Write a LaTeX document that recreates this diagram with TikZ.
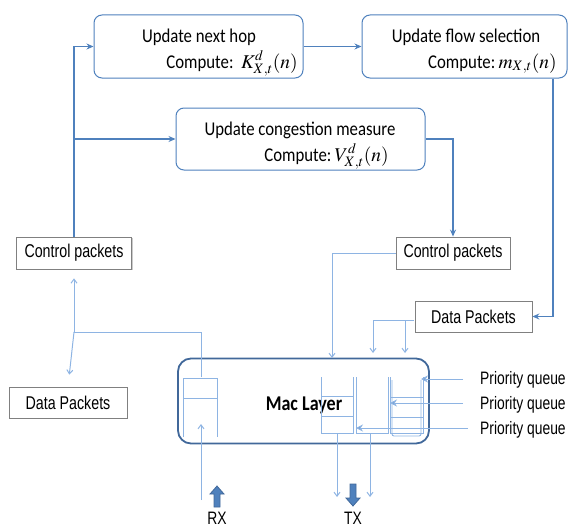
\documentclass[tikz,border=0pt]{standalone}
\usepackage{mathptmx}
\usepackage{fontspec}
\setmainfont{Liberation Sans}
\newfontfamily\calib[FakeStretch=0.86]{Carlito}
\newfontfamily\narrowsans[FakeStretch=0.77]{Liberation Sans}
\usetikzlibrary{arrows.meta,shadows}

\definecolor{lineblue}{HTML}{4F81BD}
\definecolor{paleblue}{HTML}{8EB4E3}
\definecolor{macblue}{HTML}{41689A}
\definecolor{pktgray}{HTML}{808080}

\tikzset{
  procbox/.style={draw=lineblue, line width=1pt, rounded corners=8pt, fill=white},
  pktbox/.style={draw=pktgray, line width=0.8pt, fill=white,
    drop shadow={shadow xshift=1.2pt, shadow yshift=-1.2pt, fill=black!35, opacity=0.6},
    font=\narrowsans\fontsize{18.5}{20}\selectfont, inner sep=0pt},
  boxtext/.style={font=\calib\fontsize{19.5}{22}\selectfont, inner sep=0pt},
  mainline/.style={draw=lineblue, line width=1.4pt},
  mainarrow/.style={mainline, -{Stealth[length=7pt,width=6pt]}},
  thinline/.style={draw=paleblue, line width=1pt},
  thinarrow/.style={thinline, -{Straight Barb[length=4pt,width=6pt]}},
  queueline/.style={draw=paleblue, line width=0.9pt},
  pqarrow/.style={draw=paleblue, line width=1pt, -{Stealth[length=7pt,width=7pt,fill=lineblue]}},
  sidelabel/.style={font=\narrowsans\fontsize{18}{20}\selectfont, inner sep=0pt, anchor=base west},
  iolabel/.style={font=\narrowsans\fontsize{18}{20}\selectfont, inner sep=0pt, anchor=base},
  bigarrow/.style={draw=macblue, line width=0.8pt, fill=lineblue}
}

\begin{document}
\begin{tikzpicture}[x=1pt, y=-1pt]
\useasboundingbox (0,0) rectangle (570,527);

% processing blocks
\node[procbox, minimum width=209pt, minimum height=63pt] (hop) at (198.5,46.5) {};
\node[procbox, minimum width=205pt, minimum height=63pt] (flow) at (464.5,46.5) {};
\node[procbox, minimum width=249pt, minimum height=62pt] (cong) at (300.5,139) {};

% block captions: title centred, formula flush right
\node[boxtext, anchor=base] (hopT) at (199,43) {Update next hop};
\node[boxtext, anchor=base east] (hopC) at (298,68) {Compute:\ \ $K^{d}_{X,t}(n)$};
\node[boxtext, anchor=base] (flowT) at (466,43) {Update flow selection};
\node[boxtext, anchor=base east] (flowC) at (557,68) {Compute:\,$m_{X,t}(n)$};
\node[boxtext, anchor=base] (congT) at (300,135) {Update congestion measure};
\node[boxtext, anchor=base east] (congC) at (389,161) {Compute:\,$V^{d}_{X,t}(n)$};

% packet boxes
\node[pktbox, minimum width=115pt, minimum height=32pt] (cpL) at (74,253) {Control packets};
\node[pktbox, minimum width=114pt, minimum height=32pt] (cpR) at (453,253) {Control packets};
\node[pktbox, minimum width=117pt, minimum height=31pt] (dpR) at (473.5,316.5) {Data Packets};
\node[pktbox, minimum width=118pt, minimum height=31pt] (dpL) at (68,402.5) {Data Packets};

% MAC layer
\node[draw=macblue, line width=1.8pt, rounded corners=13pt, minimum width=251pt, minimum height=85pt] (mac) at (303.5,401) {};
\node[font=\calib\bfseries\fontsize{21}{23}\selectfont, inner sep=0pt, anchor=base] (macT) at (304,410) {Mac Layer};

% receive queue
\draw[queueline] (183,437) -- (183,378) -- (217,378) -- (217,437);
\draw[queueline] (183,398) -- (217,398);

% priority queues
\draw[queueline] (321,377) -- (321,433) -- (353,433) -- (353,377);
\draw[queueline] (321,396) -- (353,396) (321,416) -- (353,416);
\draw[queueline] (356,377) -- (356,433) -- (388,433) -- (388,377);
\draw[queueline] (390,377) -- (390,433) -- (423,433) -- (423,377);
\draw[queueline] (390,397) -- (423,397) (390,417) -- (423,417);
\draw[queueline, rounded corners=2pt] (392,380) -- (392,436) -- (421,436) -- (421,380);

% priority queue inputs
\node[sidelabel] (pq1) at (480,384) {Priority queue};
\node[sidelabel] (pq2) at (480,409) {Priority queue};
\node[sidelabel] (pq3) at (480,434) {Priority queue};
\coordinate (pq1in) at (421,379);
\coordinate (pq2in) at (390,403);
\coordinate (pq3in) at (356,428);
\draw[pqarrow] (463,379) -- (pq1in);
\draw[pqarrow] (463,403) -- (pq2in);
\draw[pqarrow] (468,428) -- (pq3in);

% control flow between blocks
\draw[mainarrow] (hop.east) -- (flow.west);
\draw[mainarrow] (cpL.north) |- (hop.west);
\draw[mainarrow] (cpL.north |- cong.west) -- (cong.west);
\draw[mainarrow] (cong.east) -| (cpR.north);
\draw[mainarrow] (flow.south -| 553,0) |- (dpR.east);

% towards the MAC layer
\coordinate (macIn1) at (332,358);
\draw[thinarrow] (cpR.west) -| (macIn1);
\coordinate (dpOut) at (414,320);
\coordinate (macIn2) at (373,353);
\coordinate (macIn3) at (405,353);
\draw[thinline] (dpOut) -- (405,320);
\draw[thinarrow] (405,320) -| (macIn2);
\draw[thinarrow] (405,320) -- (macIn3);

% from the receive queue upwards
\coordinate (rxTop) at (201,377);
\coordinate (split) at (74,332);
\draw[thinline] (rxTop) |- (split);
\draw[thinarrow, shorten >=9pt] (split) -- (cpL.south);
\draw[thinarrow, shorten >=12pt] (split) -- (dpL.north);

% RX and TX lines
\coordinate (rxIn) at (201,500);
\coordinate (rxTip) at (201,424);
\draw[thinarrow] (rxIn) -- (rxTip);
\coordinate (tx1) at (337,497);
\coordinate (tx2) at (370,497);
\draw[thinarrow] (337,433) -- (tx1);
\draw[thinarrow] (370,433) -- (tx2);

% block arrows
\draw[bigarrow] (214,507) -- (214,494) -- (210,494) -- (217,486) -- (224,494) -- (220,494) -- (220,507) -- cycle;
\draw[bigarrow] (350,484) -- (350,498) -- (346,498) -- (353,506) -- (360,498) -- (356,498) -- (356,484) -- cycle;
\node[iolabel] (rx) at (217,524) {RX};
\node[iolabel] (tx) at (353,524) {TX};
\end{tikzpicture}
\end{document}
